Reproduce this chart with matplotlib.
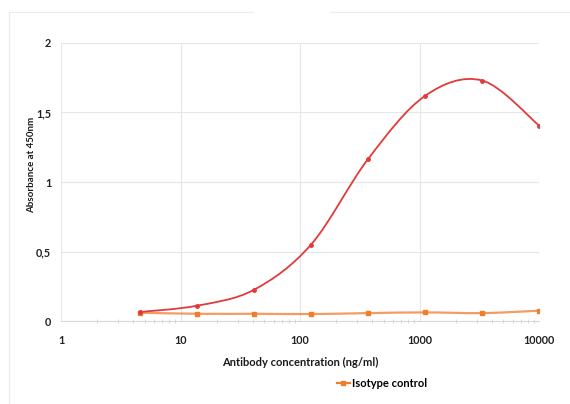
import numpy as np
import matplotlib.pyplot as plt
from matplotlib.path import Path
from matplotlib.patches import PathPatch
from matplotlib.lines import Line2D
from matplotlib.ticker import FixedLocator, LogLocator, NullFormatter

plt.rcParams['font.family'] = ['Lato', 'DejaVu Sans']
plt.rcParams['font.weight'] = 'bold'

conc = [4.57, 13.7, 41.2, 123.5, 370, 1111, 3333, 10000]
antibody = [0.065, 0.11, 0.225, 0.55, 1.165, 1.62, 1.73, 1.405]
isotype = [0.06, 0.052, 0.052, 0.05, 0.057, 0.062, 0.057, 0.074]

red = '#E23A3A'
orange = '#F07C2C'


def smooth_path(xs, ys):
    # Excel-like smoothed line: cubic bezier through points in log-x space
    lx = np.log10(xs)
    ys = np.asarray(ys, float)
    n = len(lx)
    verts = [(xs[0], ys[0])]
    codes = [Path.MOVETO]
    for i in range(n - 1):
        p0 = max(i - 1, 0)
        p3 = min(i + 2, n - 1)
        c1x = lx[i] + (lx[i + 1] - lx[p0]) / 6
        c1y = ys[i] + (ys[i + 1] - ys[p0]) / 6
        c2x = lx[i + 1] - (lx[p3] - lx[i]) / 6
        c2y = ys[i + 1] - (ys[p3] - ys[i]) / 6
        verts += [(10 ** c1x, c1y), (10 ** c2x, c2y), (xs[i + 1], ys[i + 1])]
        codes += [Path.CURVE4] * 3
    return Path(verts, codes)


fig = plt.figure(figsize=(5.7, 4.04), dpi=100)
ax = fig.add_axes([0.107, 0.2054, 0.839, 0.6882])

ax.set_xscale('log')
ax.set_xlim(1, 10000)
ax.set_ylim(0, 2)

ax.add_patch(PathPatch(smooth_path(conc, isotype), fill=False,
                       edgecolor=orange, lw=1.6, alpha=0.75))
ax.plot(conc, isotype, 's', color=orange, ms=3.5, mec=orange)
ax.add_patch(PathPatch(smooth_path(conc, antibody), fill=False,
                       edgecolor=red, lw=1.3))
ax.plot(conc, antibody, 'o', color=red, ms=2.5)

ax.yaxis.set_major_locator(FixedLocator([0, 0.5, 1, 1.5, 2]))
ax.set_yticklabels(['0', '0,5', '1', '1,5', '2'])
ax.xaxis.set_major_locator(FixedLocator([1, 10, 100, 1000, 10000]))
ax.set_xticklabels(['1', '10', '100', '1000', '10000'])
ax.xaxis.set_minor_locator(LogLocator(base=10, subs=np.arange(2, 10)))
ax.xaxis.set_minor_formatter(NullFormatter())

ax.grid(True, which='major', color='#E6E6E6', lw=0.8)
ax.set_axisbelow(True)
for s in ['top', 'right', 'left']:
    ax.spines[s].set_visible(False)
ax.spines['bottom'].set_color('#D9D9D9')
ax.tick_params(axis='both', which='major', length=0, labelsize=7.8,
               colors='#222222', pad=7)
ax.tick_params(axis='x', which='major', pad=10)
ax.tick_params(axis='x', which='minor', length=3, direction='inout',
               color='#D0D0D0', width=0.6)

ax.set_xlabel('Antibody concentration (ng/ml)', fontsize=8,
              fontweight='bold', color='#1a1a1a', labelpad=8)
ax.set_ylabel('Absorbance at 450nm', fontsize=7, fontweight='bold',
              color='#1a1a1a', va='center')
ax.yaxis.set_label_coords(-0.061, 0.561)

handle = Line2D([], [], color=orange, marker='s', ms=3.5, lw=1.6)
fig.legend([handle], ['Isotype control'], loc='center',
           bbox_to_anchor=(0.67, 0.05), frameon=False, fontsize=8,
           handlelength=1.2, handletextpad=0.2)

# light chart border with gap at the top
fig.add_artist(Line2D([9 / 570, 253 / 570], [1 - 12 / 404] * 2,
                      color='#EBEBEB', lw=0.8))
fig.add_artist(Line2D([330 / 570, 1], [1 - 12 / 404] * 2,
                      color='#EBEBEB', lw=0.8))
fig.add_artist(Line2D([9 / 570] * 2, [0, 1 - 12 / 404],
                      color='#EBEBEB', lw=0.8))

fig.savefig('out.png', dpi=100)
